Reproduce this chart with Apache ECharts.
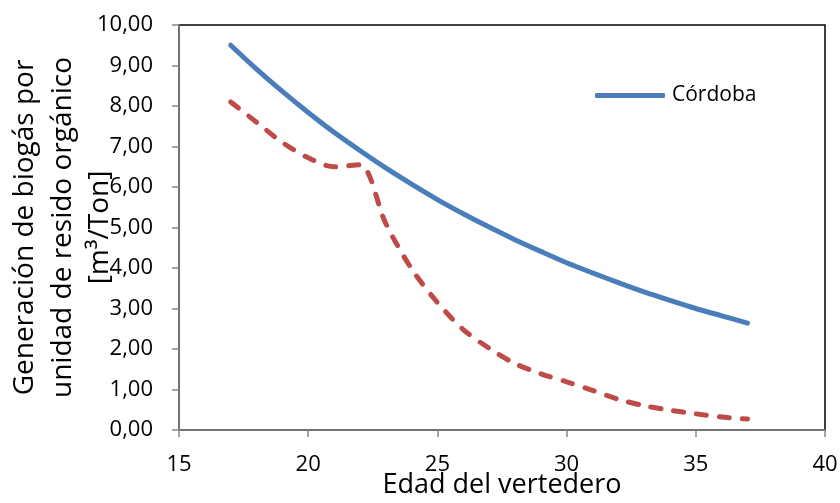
<!DOCTYPE html>
<html>
<head>
<meta charset="utf-8">
<script src="https://cdn.jsdelivr.net/npm/echarts@6/dist/echarts.min.js"></script>
<style>
  html, body { margin: 0; padding: 0; background: #ffffff; }
  #chart { width: 840px; height: 503px; }
</style>
</head>
<body>
<div id="chart"></div>
<script>
// Landfill age (years)
const edades = [17, 18, 19, 20, 21, 22, 23, 24, 25, 26, 27, 28, 29, 30, 31, 32, 33, 34, 35, 36, 37];

// Biogas generation per unit of organic waste [m³/Ton]
const cordoba = [9.50, 8.91, 8.36, 7.84, 7.35, 6.90, 6.47, 6.07, 5.69, 5.34, 5.01,
                 4.70, 4.41, 4.13, 3.88, 3.64, 3.41, 3.20, 3.00, 2.82, 2.64];
const serie2  = [8.10, 7.60, 7.10, 6.72, 6.50, 6.55, 5.10, 3.98, 3.15, 2.48, 2.02,
                 1.64, 1.39, 1.19, 0.98, 0.76, 0.60, 0.49, 0.40, 0.32, 0.27];

const xTicks = { min: 15, max: 40, interval: 5 };
const yTicks = { min: 0, max: 10, interval: 1 };

const FONT = '"Open Sans", "Noto Sans", sans-serif';

const pairs = (xs, ys) => xs.map((x, i) => [x, ys[i]]);

const chart = echarts.init(document.getElementById('chart'), null, { renderer: 'canvas' });

chart.setOption({
  animation: false,
  backgroundColor: '#ffffff',
  textStyle: { fontFamily: FONT, color: '#000000' },
  grid: {
    left: 179, right: 15, top: 25, bottom: 73,
    containLabel: false,
    outerBoundsMode: 'none',
    show: true, borderColor: '#000000', borderWidth: 1.5, backgroundColor: 'transparent'
  },
  legend: {
    data: ['Córdoba'],
    left: 590, top: 80,
    icon: 'roundRect',
    itemWidth: 70, itemHeight: 5, itemGap: 10,
    textStyle: { fontFamily: FONT, fontSize: 21, color: '#000000', padding: [0, 0, 0, 2] }
  },
  xAxis: {
    type: 'value',
    min: xTicks.min, max: xTicks.max, interval: xTicks.interval,
    name: 'Edad del vertedero',
    nameLocation: 'middle',
    nameGap: 42,
    nameMoveOverlap: false,
    nameTextStyle: { fontFamily: FONT, fontSize: 27, color: '#000000' },
    axisLine: { show: true, onZero: false, lineStyle: { color: '#868686', width: 1.5 } },
    axisTick: { show: true, length: 7, lineStyle: { color: '#868686', width: 1.5 } },
    axisLabel: { fontFamily: FONT, fontSize: 22, color: '#000000', margin: 24 },
    splitLine: { show: false }
  },
  yAxis: {
    type: 'value',
    min: yTicks.min, max: yTicks.max, interval: yTicks.interval,
    name: 'Generación de biogás por\nunidad de resido orgánico\n[m³/Ton]',
    nameLocation: 'middle',
    nameRotate: 90,
    nameGap: 60,
    nameMoveOverlap: false,
    nameTextStyle: { fontFamily: FONT, fontSize: 28, color: '#000000', lineHeight: 37.5, align: 'center' },
    axisLine: { show: true, onZero: false, lineStyle: { color: '#868686', width: 1.5 } },
    axisTick: { show: true, length: 7, lineStyle: { color: '#868686', width: 1.5 } },
    axisLabel: {
      fontFamily: FONT, fontSize: 22, color: '#000000', margin: 26,
      formatter: v => v.toFixed(2).replace('.', ',')
    },
    splitLine: { show: false }
  },
  series: [
    {
      name: 'Córdoba',
      type: 'line',
      data: pairs(edades, cordoba),
      smooth: 0.3,
      symbol: 'none',
      z: 3,
      lineStyle: { color: '#4A7EBB', width: 5, cap: 'round', join: 'round' },
      itemStyle: { color: '#4A7EBB' }
    },
    {
      name: 'Serie 2',
      type: 'line',
      data: pairs(edades, serie2),
      smooth: 0.3,
      symbol: 'none',
      z: 2,
      lineStyle: { color: '#BE4B48', width: 5, type: [10, 13], cap: 'round', join: 'round' },
      itemStyle: { color: '#BE4B48' }
    }
  ]
});
</script>
</body>
</html>
